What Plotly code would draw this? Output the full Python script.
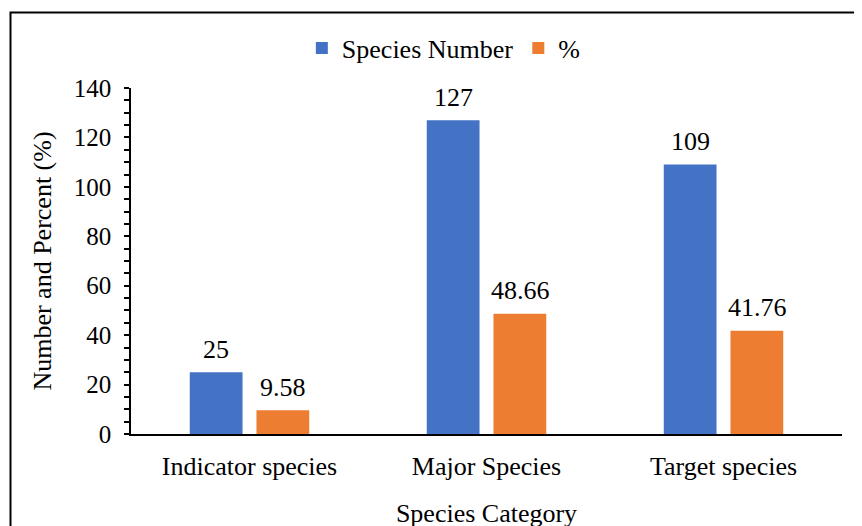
import plotly.graph_objects as go

categories = ["Indicator species", "Major Species", "Target species"]
species_number = [25, 127, 109]
percent = [9.58, 48.66, 41.76]
number_labels = ["25", "127", "109"]
percent_labels = ["9.58", "48.66", "41.76"]

FONT = "Liberation Serif"

fig = go.Figure()
fig.add_trace(go.Bar(
    x=categories, y=species_number, name="Species Number",
    marker=dict(color="#4472C4", line=dict(width=0)),
))
fig.add_trace(go.Bar(
    x=categories, y=percent, name="%",
    marker=dict(color="#ED7D31", line=dict(width=0)),
))

# data labels above each bar (grouped bars offset by half a slot)
annotations = []
for cat, v, t in zip(categories, species_number, number_labels):
    annotations.append(dict(x=cat, y=v, xref="x", yref="y", text=t, showarrow=False,
                            xshift=-33.5, yshift=23, yanchor="middle",
                            font=dict(family=FONT, size=26, color="black")))
for cat, v, t in zip(categories, percent, percent_labels):
    annotations.append(dict(x=cat, y=v, xref="x", yref="y", text=t, showarrow=False,
                            xshift=33.5, yshift=23, yanchor="middle",
                            font=dict(family=FONT, size=26, color="black")))

W, H = 862, 526
L, R, T, B = 123, 28, 80, 100
pw, ph = W - L - R, H - T - B

fig.update_layout(
    width=W, height=H,
    margin=dict(l=L, r=R, t=T, b=B, autoexpand=False),
    paper_bgcolor="white", plot_bgcolor="white",
    font=dict(family=FONT, size=26, color="black"),
    barmode="group", bargap=0.437, bargroupgap=0.209,
    showlegend=True,
    legend=dict(
        orientation="h", x=0.44, xanchor="center",
        y=(426 - 40) / ph, yanchor="middle",
        font=dict(family=FONT, size=26, color="black"),
        itemwidth=30, bgcolor="rgba(0,0,0,0)",
    ),
    annotations=annotations,
    xaxis=dict(
        showline=True, linecolor="black", linewidth=1.5,
        ticks="", showgrid=False, automargin=False,
        ticklabelstandoff=8,
        tickfont=dict(family=FONT, size=26),
        title=dict(text="Species Category", font=dict(family=FONT, size=26), standoff=24),
    ),
    yaxis=dict(
        range=[0, 140], dtick=20, tick0=0,
        showline=True, linecolor="black", linewidth=1.5,
        ticks="outside", ticklen=5, tickwidth=1.5, tickcolor="black",
        minor=dict(dtick=5, ticks="outside", ticklen=5, tickwidth=1.5, tickcolor="black", showgrid=False),
        showgrid=False, zeroline=False, automargin=False,
        ticklabelstandoff=8,
        tickfont=dict(family=FONT, size=25),
        title=dict(text="Number and Percent (%)", font=dict(family=FONT, size=26)),
    ),
    shapes=[dict(
        type="rect", xref="paper", yref="paper",
        x0=(2.5 - L) / pw, x1=1.2, y0=-0.6, y1=(426 - 4.5) / ph,
        line=dict(color="black", width=2), fillcolor="rgba(0,0,0,0)", layer="below",
    )],
)

fig.write_html("out.html")
